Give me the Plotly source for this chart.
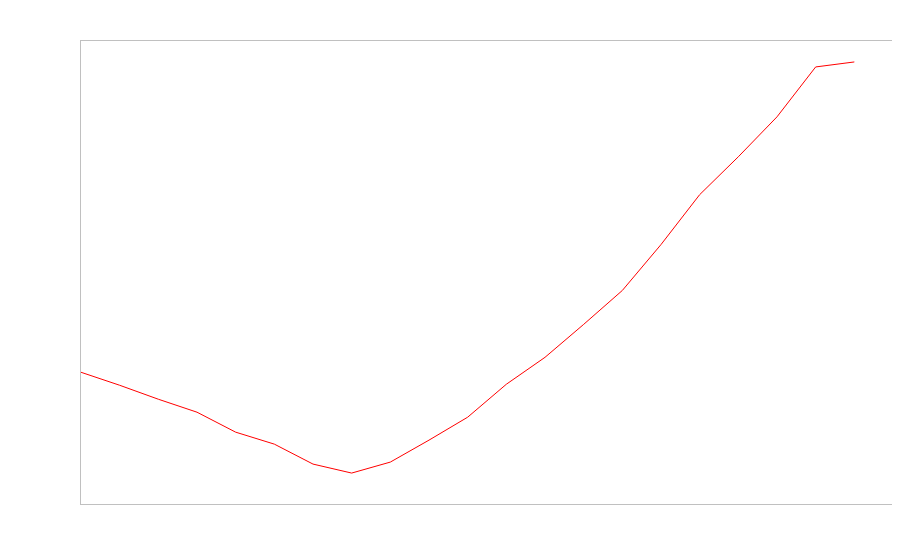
import plotly.graph_objects as go

x_vals = list(range(21))
y_vals = [132, 119, 105, 92, 72, 60, 40, 31, 42, 64, 87, 120, 147, 180, 214, 260, 310, 348, 388, 438, 443]

fig = go.Figure()
fig.add_trace(go.Scatter(x=x_vals, y=y_vals, mode="lines",
                         line=dict(color="red", width=1), hoverinfo="skip"))
fig.update_layout(
    width=900, height=560,
    margin=dict(l=73, r=15, t=33, b=64),
    paper_bgcolor="white", plot_bgcolor="white",
    showlegend=False,
)
axis_common = dict(showgrid=False, zeroline=False, showticklabels=False, ticks="",
                   showline=True, mirror=True, linecolor="#c0c0c0", linewidth=1)
fig.update_xaxes(range=[0, 21], **axis_common)
fig.update_yaxes(range=[0, 464], **axis_common)
fig.write_html("out.html")
